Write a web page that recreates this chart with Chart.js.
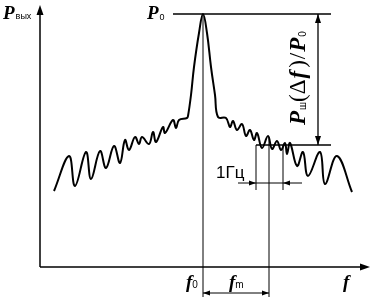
<!DOCTYPE html>
<html>
<head>
<meta charset="utf-8">
<script src="https://cdn.jsdelivr.net/npm/chart.js@4.4.0/dist/chart.umd.min.js"></script>
<style>
  html, body { margin: 0; padding: 0; background: #fff; }
  #wrap { width: 371px; height: 297px; }
</style>
</head>
<body>
<div id="wrap"><canvas id="spectrum" width="371" height="297"></canvas></div>
<script>
// Spectrum trace (arbitrary frequency / power units)
const freq = [14, 29, 35, 46, 51, 60, 66, 74, 80, 85, 89, 95, 99, 102, 109, 113, 116, 123, 125, 133, 136, 139, 147, 148,
              151, 154, 159, 163, 167, 171, 175, 178,
              186, 190, 193, 197, 202, 206, 210, 214, 217, 222, 228, 232, 237, 241, 245, 247, 250, 257, 263, 268, 280, 285, 297, 312];
const power = [76, 111, 81, 115, 88, 116, 99, 121, 104, 127, 117, 130, 123, 130, 123, 135, 125, 140, 134, 147, 139, 147, 149, 151,
               172, 200, 234, 253, 234, 200, 172, 150,
               149, 140, 146, 137, 143, 131, 137, 127, 134, 119, 131, 118, 126, 117, 124, 113, 124, 101, 115, 91, 115, 83, 111, 75];

// marked levels on the sketch
const F0 = 163;          // carrier frequency
const FM = 229;          // offset frequency f_m
const BAND = [216, 243]; // 1 Hz measuring band
const P0 = 253;          // carrier power
const PNOISE = 122;      // noise power in the band
const X_MAX = 330;
const Y_MAX = 262;
const BELOW = -30;       // lines run past the axis to the bottom edge

const SERIF = '"Liberation Serif", "DejaVu Serif", serif';
const SANS = '"Liberation Sans", Arial, sans-serif';

function line(ctx, x1, y1, x2, y2) {
    ctx.beginPath();
    ctx.moveTo(x1, y1);
    ctx.lineTo(x2, y2);
    ctx.stroke();
}

function head(ctx, x, y, ang, len, half) {
    ctx.save();
    ctx.translate(x, y);
    ctx.rotate(ang);
    ctx.beginPath();
    ctx.moveTo(0, 0);
    ctx.lineTo(-len, -half);
    ctx.lineTo(-len, half);
    ctx.closePath();
    ctx.fill();
    ctx.restore();
}

// draws a run of text pieces: [text, font, baseline shift, extra gap after]
function pieces(ctx, x, y, parts) {
    let cx = x;
    parts.forEach(([t, font, dy, gap]) => {
        ctx.font = font;
        ctx.fillText(t, cx, y + (dy || 0));
        cx += ctx.measureText(t).width + (gap || 0);
    });
}

const sketch = {
    id: 'sketch',
    afterDatasetsDraw(chart) {
        const { ctx, scales: { x, y } } = chart;
        const px = v => x.getPixelForValue(v);
        const py = v => y.getPixelForValue(v);
        ctx.save();
        ctx.strokeStyle = '#000';
        ctx.fillStyle = '#000';

        // axes with arrows
        ctx.lineWidth = 1.5;
        line(ctx, px(0), py(0), px(0), py(Y_MAX) + 8);
        head(ctx, px(0), py(Y_MAX), -Math.PI / 2, 10, 3.5);
        line(ctx, px(0), py(0), px(X_MAX) - 8, py(0));
        head(ctx, px(X_MAX), py(0), 0, 10, 3.5);

        // levels and markers
        ctx.lineWidth = 1.3;
        line(ctx, px(133), py(P0), px(291), py(P0));
        line(ctx, px(BAND[0]), py(PNOISE), px(291), py(PNOISE));
        ctx.lineWidth = 1;
        line(ctx, px(F0), py(P0), px(F0), py(BELOW));
        line(ctx, px(FM), py(130), px(FM), py(BELOW));
        line(ctx, px(BAND[0]), py(PNOISE), px(BAND[0]), py(77));
        line(ctx, px(BAND[1]), py(PNOISE), px(BAND[1]), py(77));

        // 1 Hz band arrows
        line(ctx, px(198), py(84), px(262), py(84));
        head(ctx, px(BAND[0]), py(84), 0, 7, 2.5);
        head(ctx, px(BAND[1]), py(84), Math.PI, 7, 2.5);

        // f_m arrow
        line(ctx, px(F0), py(-26), px(FM), py(-26));
        head(ctx, px(F0), py(-26), Math.PI, 7, 2.5);
        head(ctx, px(FM), py(-26), 0, 7, 2.5);

        // noise-to-carrier ratio arrow
        ctx.lineWidth = 1.3;
        line(ctx, px(278), py(P0), px(278), py(PNOISE));
        head(ctx, px(278), py(P0), -Math.PI / 2, 9, 3);
        head(ctx, px(278), py(PNOISE), Math.PI / 2, 9, 3);

        // labels
        ctx.textBaseline = 'alphabetic';
        pieces(ctx, px(-37), py(248), [['P', 'bold italic 19px ' + SERIF, 0, 1], ['вых', '9px ' + SANS, 0]]);
        pieces(ctx, px(107), py(248), [['P', 'bold italic 19px ' + SERIF, 0, 1], ['0', '9px ' + SANS, 1]]);
        pieces(ctx, px(146), py(-21), [['f', 'bold italic 19px ' + SERIF], ['0', '10px ' + SANS, 0]]);
        pieces(ctx, px(189), py(-21), [['f', 'bold italic 19px ' + SERIF], ['m', '10px ' + SANS, 0]]);
        pieces(ctx, px(303), py(-21), [['f', 'bold italic 19px ' + SERIF]]);
        pieces(ctx, px(176), py(89), [['1Гц', '17px ' + SANS]]);

        ctx.save();
        ctx.translate(px(265), py(142));
        ctx.rotate(-Math.PI / 2);
        pieces(ctx, 0, 0, [
            ['P', 'bold italic 23px ' + SERIF, 0, 1],
            ['ш', '10px ' + SANS, 1],
            ['(', '23px ' + SERIF],
            ['Δ', '23px ' + SERIF, 0, 1],
            ['f', 'bold italic 23px ' + SERIF, 0, 3],
            [')', '23px ' + SERIF, 0, 1],
            ['/', '23px ' + SERIF, 0, 1],
            ['P', 'bold italic 23px ' + SERIF, 0, 1],
            ['0', '10px ' + SANS, 1]
        ]);
        ctx.restore();

        ctx.restore();
    }
};

new Chart(document.getElementById('spectrum'), {
    type: 'line',
    data: {
        datasets: [{
            data: freq.map((f, i) => ({ x: f, y: power[i] })),
            borderColor: '#000',
            borderWidth: 2,
            tension: 0.4,
            pointRadius: 0,
            fill: false
        }]
    },
    options: {
        responsive: false,
        devicePixelRatio: 1,
        animation: false,
        layout: { padding: { left: 40, right: 1, top: 5, bottom: 30 } },
        plugins: { legend: { display: false }, tooltip: { enabled: false } },
        scales: {
            x: { type: 'linear', min: 0, max: X_MAX, display: false },
            y: { type: 'linear', min: 0, max: Y_MAX, display: false }
        }
    },
    plugins: [sketch]
});
</script>
</body>
</html>
